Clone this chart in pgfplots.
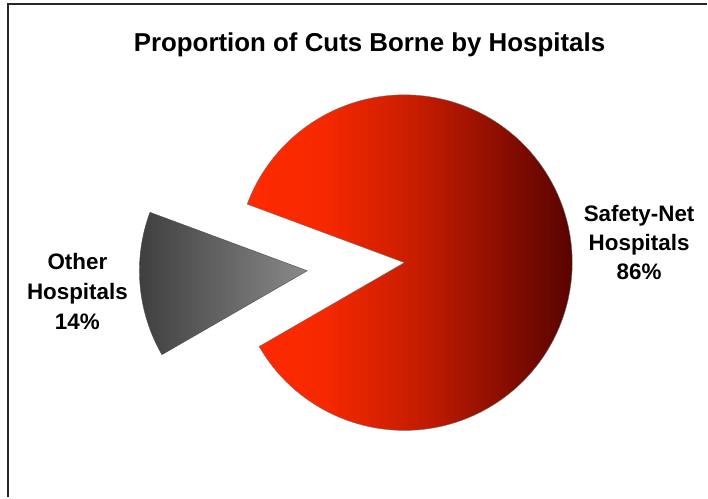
\documentclass[border=0pt]{standalone}
\usepackage{pgfplots}
\pgfplotsset{compat=1.18}
\usepackage{fontspec}
\setmainfont{Liberation Sans}
\definecolor{rA}{RGB}{255,42,0}
\definecolor{rB}{RGB}{246,40,0}
\definecolor{rC}{RGB}{196,28,0}
\definecolor{rD}{RGB}{130,12,0}
\definecolor{rE}{RGB}{72,0,0}
\definecolor{gA}{RGB}{60,60,60}
\definecolor{gB}{RGB}{138,138,138}
\pgfdeclarehorizontalshading{redpie}{100bp}{color(0bp)=(rA); color(25bp)=(rA); color(36bp)=(rB); color(50bp)=(rC); color(63bp)=(rD); color(75bp)=(rE); color(100bp)=(rE)}
\pgfdeclarehorizontalshading{graypie}{100bp}{color(0bp)=(gA); color(25bp)=(gA); color(75bp)=(gB); color(100bp)=(gB)}
% data (percent)
\def\safetynet{86}
\def\otherhosp{14}
\pgfmathsetmacro\redstart{210}
\pgfmathsetmacro\redend{\redstart+\safetynet*3.6}
\pgfmathsetmacro\graystart{\redstart-\otherhosp*3.6}
\pgfmathsetmacro\graymid{(\graystart+\redstart)/2}
\pgfmathsetmacro\gcx{405+97.7*cos(\graymid)}
\pgfmathsetmacro\gcy{235+97.7*sin(\graymid)}
\begin{document}
\begin{tikzpicture}
\begin{axis}[width=708bp,height=498bp,scale only axis,
  xmin=0,xmax=708,ymin=0,ymax=498,hide axis,clip=false]
\fill[white] (axis cs:0,0) rectangle (axis cs:708,498);
\draw[color=black!85,line width=2bp] (axis cs:8.5,0) -- (axis cs:8.5,493.5) -- (axis cs:708,493.5);
\shadedraw[shading=graypie,draw=black!70,line width=0.4bp]
  (axis cs:\gcx,\gcy) -- ++(\graystart:168bp) arc[start angle=\graystart,end angle=\redstart,radius=168bp] -- cycle;
\shadedraw[shading=redpie,draw=black!55,line width=0.4bp]
  (axis cs:405,235) -- ++(\redstart:168bp) arc[start angle=\redstart,end angle=\redend,radius=168bp] -- cycle;
\node[anchor=base,font=\bfseries\fontsize{26}{30}\selectfont] at (axis cs:370,446) {Proportion of Cuts Borne by Hospitals};
\node[anchor=base,font=\bfseries\fontsize{22.5}{27}\selectfont] at (axis cs:640,276) {Safety-Net};
\node[anchor=base,font=\bfseries\fontsize{22.5}{27}\selectfont] at (axis cs:640,247) {Hospitals};
\node[anchor=base,font=\bfseries\fontsize{22.5}{27}\selectfont] at (axis cs:640,218) {\safetynet\%};
\node[anchor=base,font=\bfseries\fontsize{22.5}{27}\selectfont] at (axis cs:77.5,228) {Other};
\node[anchor=base,font=\bfseries\fontsize{22.5}{27}\selectfont] at (axis cs:77.5,198) {Hospitals};
\node[anchor=base,font=\bfseries\fontsize{22.5}{27}\selectfont] at (axis cs:77.5,168) {\otherhosp\%};
\end{axis}
\end{tikzpicture}
\end{document}
